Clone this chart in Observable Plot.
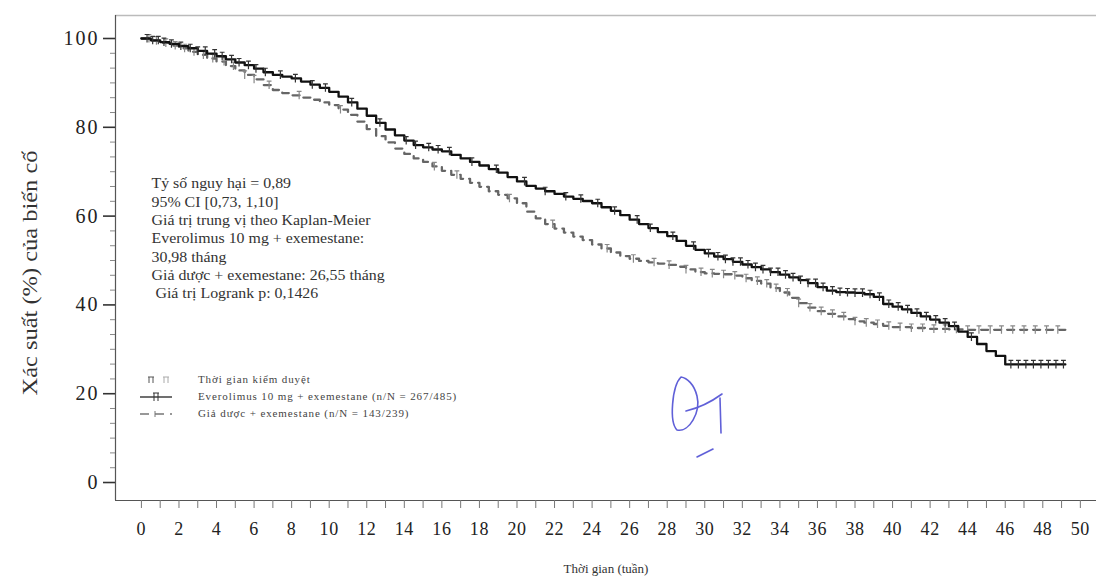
<!DOCTYPE html>
<html>
<head>
<meta charset="utf-8">
<script src="https://cdn.jsdelivr.net/npm/d3@7"></script>
<script src="https://cdn.jsdelivr.net/npm/@observablehq/plot@0.6"></script>
<style>
  html, body { margin: 0; padding: 0; background: #fff; }
  #wrap { position: relative; width: 1096px; height: 580px; overflow: hidden; }
  #legend { position: absolute; left: 138px; top: 372px; font-family: "Liberation Serif", serif; font-size: 11px; color: #444; }
  #legend .row { position: relative; height: 17px; }
  #legend svg { position: absolute; left: 0; top: 0; }
  #legend span { position: absolute; left: 60px; top: 1px; white-space: nowrap; letter-spacing: 0.9px; }
  #sig { position: absolute; left: 0; top: 0; pointer-events: none; }
  g[aria-label="y-axis tick label"] text { letter-spacing: 2px; }
  g[aria-label="x-axis tick label"] text { letter-spacing: 0.6px; }
  g[aria-label="x title"] text { letter-spacing: 0.5px; }
</style>
</head>
<body>
<div id="wrap"></div>
<script>
// ---------------- data ----------------
const seriesNames = ["Everolimus 10 mg + exemestane", "Giả dược + exemestane"];

// Kaplan–Meier estimate, Everolimus 10 mg + exemestane (time, % event-free)
const everoTime = [0,0.5,1,1.5,2,2.5,3,3.5,4,4.5,5,5.5,6,6.5,7,7.5,8,8.5,9,9.5,10,10.5,11,11.5,12,12.5,13,13.5,14,14.5,15,15.5,16,16.5,17,17.5,18,18.5,19,19.5,20,20.5,21,21.5,22,22.5,23,23.5,24,24.5,25,25.5,26,26.5,27,27.5,28,28.5,29,29.5,30,30.5,31,31.5,32,32.5,33,33.5,34,34.5,35,35.5,36,36.5,37,37.5,38,38.5,39,39.5,40,40.5,41,41.5,42,42.5,43,43.5,44,44.5,45,45.5,46,49.2];
const everoSurv = [100,99.6,99.2,98.8,98.3,97.8,97.2,96.6,96.0,95.3,94.6,94.0,93.2,92.4,91.8,91.4,91.0,90.3,89.6,88.9,88.0,86.9,85.6,84.2,82.6,81.0,79.5,78.2,77.0,76.0,75.5,75.0,74.6,73.8,73.0,72.2,71.4,70.6,69.8,68.8,67.8,66.8,66.2,65.6,65.0,64.4,63.9,63.4,62.9,62.0,61.2,60.2,59.2,58.2,57.3,56.4,55.5,54.4,53.3,52.4,51.6,50.9,50.3,49.7,49.1,48.5,48.0,47.4,46.8,46.2,45.6,44.9,44.0,43.2,42.9,42.8,42.7,42.4,41.8,40.2,39.6,39.0,38.2,37.4,36.7,36.0,35.2,34.0,32.8,31.2,29.6,28.5,26.6,26.6];

// Kaplan–Meier estimate, Giả dược + exemestane
const placeboTime = [0,0.5,1,1.5,2,2.5,3,3.5,4,4.5,5,5.5,6,6.5,7,7.5,8,8.5,9,9.5,10,10.5,11,11.5,12,12.5,13,13.5,14,14.5,15,15.5,16,16.5,17,17.5,18,18.5,19,19.5,20,20.5,21,21.5,22,22.5,23,23.5,24,24.5,25,25.5,26,26.5,27,27.5,28,28.5,29,29.5,30,30.5,31,31.5,32,32.5,33,33.5,34,34.5,35,35.5,36,36.5,37,37.5,38,38.5,39,39.5,40,41,42,43,44,49.2];
const placeboSurv = [100,99.5,99.0,98.4,97.8,97.0,96.3,95.5,94.8,93.8,92.8,91.8,90.8,89.5,88.4,87.7,87.2,86.7,86.2,85.6,85.0,84.0,82.8,81.3,79.6,78.0,76.6,75.2,74.0,73.0,72.2,71.2,70.2,69.3,68.4,67.5,66.6,65.6,64.8,64.0,62.9,61.0,59.5,58.2,57.2,56.3,55.4,54.6,53.6,52.7,51.8,51.0,50.4,49.9,49.6,49.3,49.0,48.6,48.0,47.4,47.1,47.0,46.9,46.6,46.0,45.4,44.8,43.8,42.8,41.6,40.4,39.4,38.6,38.0,37.4,36.8,36.3,36.0,35.7,35.3,35.0,34.8,34.6,34.5,34.4,34.4];

// censoring times (Thời gian kiểm duyệt)
const everoCensor = [0.3,0.6,0.9,1.2,1.6,2.1,2.6,3.0,3.4,3.9,4.3,4.8,5.2,5.7,6.1,6.6,7.4,8.2,9.1,9.8,11.2,12.7,14.1,14.6,15.3,15.8,16.4,17.6,18.9,20.4,21.5,22.6,23.4,24.3,25.2,26.4,27.1,28.3,29.4,30.2,30.7,31.1,31.5,31.9,32.3,32.7,33.1,33.5,33.9,34.3,34.7,35.1,35.5,35.9,36.3,36.8,37.2,37.6,38.0,38.4,38.8,39.3,39.8,40.3,40.8,41.3,41.8,42.3,42.8,43.3,44.2,46.3,46.7,47.1,47.5,47.9,48.3,48.7,49.1];
const placeboCensor = [0.4,0.8,1.3,1.8,2.3,2.8,3.3,3.8,4.4,4.9,5.5,6.0,6.8,8.4,10.6,15.6,16.8,19.6,21.9,24.8,26.2,27.3,28.1,29.0,29.8,30.4,31.0,31.6,32.2,32.8,33.3,33.8,34.4,35.0,35.6,36.2,36.8,37.4,38.0,38.6,39.2,39.8,40.4,41.0,41.6,42.2,42.8,43.4,44.0,44.6,45.2,45.8,46.4,47.0,47.6,48.2,48.8];

// axis ticks
const xTickLabels = [0,2,4,6,8,10,12,14,16,18,20,22,24,26,28,30,32,34,36,38,40,42,44,46,48,50];
const xMinorTicks = [0,1,2,3,4,5,6,7,8,9,10,11,12,13,14,15,16,17,18,19,20,21,22,23,24,25,26,27,28,29,30,31,32,33,34,35,36,37,38,39,40,41,42,43,44,45,46,47,48,49,50];
const yTickLabels = [0,20,40,60,80,100];
const yMinorTicks = [3.33,6.67,10,13.33,16.67,23.33,26.67,30,33.33,36.67,43.33,46.67,50,53.33,56.67,63.33,66.67,70,73.33,76.67,83.33,86.67,90,93.33,96.67];

const xTitle = "Thời gian (tuần)";
const yTitle = "Xác suất (%) của biến cố";
const statLines = [
  "Tỷ số nguy hại = 0,89",
  "95% CI [0,73, 1,10]",
  "Giá trị trung vị theo Kaplan-Meier",
  "Everolimus 10 mg + exemestane:",
  "30,98 tháng",
  "Giả dược + exemestane: 26,55 tháng",
  " Giá trị Logrank p: 0,1426"
];
const legendLabels = [
  "Thời gian kiểm duyệt",
  "Everolimus 10 mg + exemestane (n/N = 267/485)",
  "Giả dược + exemestane (n/N = 143/239)"
];

// ---------------- build ----------------
const evero = everoTime.map((t, i) => ({t, s: everoSurv[i]}));
const placebo = placeboTime.map((t, i) => ({t, s: placeboSurv[i]}));
function stepAt(curve, t) {
  const i = d3.bisector(d => d.t).right(curve, t) - 1;
  return curve[Math.max(0, i)].s;
}
const everoC = everoCensor.map(t => ({t, s: stepAt(evero, t)}));
const placeboC = placeboCensor.map(t => ({t, s: stepAt(placebo, t)}));

const censorSymbol = {
  draw(ctx, size) {
    const r = Math.sqrt(size / Math.PI);
    ctx.moveTo(0, -r); ctx.lineTo(0, r);
    ctx.moveTo(-r * 0.6, -r); ctx.lineTo(r * 0.6, -r);
  }
};

const xDomain = [-1.38, 50.86];
const yDomain = [-4.05, 105.18];

const chart = Plot.plot({
  width: 1096,
  height: 580,
  marginLeft: 115,
  marginRight: 0,
  marginTop: 15,
  marginBottom: 80,
  x: {domain: xDomain},
  y: {domain: yDomain},
  style: {fontFamily: "Liberation Serif, serif", background: "#fff", color: "#222"},
  marks: [
    // frame lines
    Plot.ruleY([yDomain[1]], {stroke: "#bbb", strokeWidth: 1.5}),
    Plot.ruleY([yDomain[0]], {stroke: "#555", strokeWidth: 1.2}),
    Plot.ruleX([xDomain[0]], {stroke: "#555", strokeWidth: 1.2}),
    // axes
    Plot.axisY(yTickLabels, {tickSize: 12, tickPadding: 4, fontSize: 20, tickFormat: d => String(d), label: null, stroke: "#333", strokeWidth: 1.6}),
    Plot.axisY(yMinorTicks, {tickSize: 5, tickFormat: () => "", label: null, stroke: "#888"}),
    Plot.axisX(xMinorTicks, {tickSize: 8, tickFormat: () => "", label: null, stroke: "#777"}),
    Plot.axisX(xTickLabels, {tickSize: 0, tickPadding: 22, fontSize: 18, tickFormat: d => String(d), label: null}),
    // titles
    Plot.text([yTitle], {ariaLabel: "y title", frameAnchor: "left", textAnchor: "middle", rotate: -90, dx: -86, dy: 15, fontSize: 22, fill: "#333"}),
    Plot.text([xTitle], {ariaLabel: "x title", frameAnchor: "bottom", dy: 72, fontSize: 13, fill: "#333"}),
    // statistics box
    Plot.text([statLines.join("\n")], {frameAnchor: "top-left", dx: 36, dy: 160, lineAnchor: "top", textAnchor: "start", lineHeight: 1.22, fontSize: 15, fill: "#333"}),
    // curves
    Plot.line(placebo, {x: "t", y: "s", curve: "step-after", stroke: "#666", strokeWidth: 2.3, strokeDasharray: "7,6"}),
    Plot.dot(placeboC, {x: "t", y: "s", symbol: censorSymbol, r: 4, stroke: "#888", strokeWidth: 1.2, fill: "none"}),
    Plot.line(evero, {x: "t", y: "s", curve: "step-after", stroke: "#111", strokeWidth: 2.3}),
    Plot.dot(everoC, {x: "t", y: "s", symbol: censorSymbol, r: 4, stroke: "#333", strokeWidth: 1.2, fill: "none"})
  ]
});

const wrap = document.getElementById("wrap");
wrap.appendChild(chart);

// stretch the rotated y title to the reference length
const allTexts = Array.from(chart.querySelectorAll("text"));
const yTitleText = allTexts.find(t => t.textContent === yTitle);
if (yTitleText) {
  yTitleText.setAttribute("textLength", "245");
  yTitleText.setAttribute("lengthAdjust", "spacingAndGlyphs");
}
// widen the statistics block horizontally (anchored at its left edge)
const statsText = allTexts.find(t => t.textContent.includes("Kaplan-Meier"));
if (statsText) {
  const bb = statsText.getBBox();
  const s = 234 / bb.width;
  const prev = statsText.getAttribute("transform");
  if (prev && prev.includes("translate")) {
    statsText.setAttribute("transform", `${prev} scale(${s},1)`);
  } else {
    statsText.setAttribute("transform", `translate(${bb.x},0) scale(${s},1) translate(${-bb.x},0)`);
  }
}

// legend (inside plot area)
const legend = document.createElement("div");
legend.id = "legend";
legend.innerHTML = `
  <div class="row"><svg width="50" height="16"><path d="M10 5 H16 M11 5 V11 M15 5 V11" stroke="#555" fill="none"/><path d="M25 5 H31 M26 5 V11 M30 5 V11" stroke="#aaa" fill="none"/></svg><span>${legendLabels[0]}</span></div>
  <div class="row"><svg width="50" height="16"><path d="M2 8 H34" stroke="#333" stroke-width="1.4"/><path d="M15 4 H21 M16 4 V12 M20 4 V12" stroke="#333" fill="none"/></svg><span>${legendLabels[1]}</span></div>
  <div class="row"><svg width="50" height="16"><path d="M2 8 H34" stroke="#777" stroke-width="1.4" stroke-dasharray="9,6"/><path d="M17 5 V11" stroke="#777"/></svg><span>${legendLabels[2]}</span></div>`;
wrap.appendChild(legend);

// handwritten mark
const sig = document.createElementNS("http://www.w3.org/2000/svg", "svg");
sig.setAttribute("id", "sig");
sig.setAttribute("width", "1096");
sig.setAttribute("height", "580");
sig.innerHTML = `<g fill="none" stroke="#6060d8" stroke-width="1.6" stroke-linecap="round">
  <path d="M681 377 C672 386,669 422,677 430 C689 433,701 412,697 396 C694 384,687 378,681 377"/>
  <path d="M686 411 C699 408,711 402,722 394"/>
  <path d="M720 398 L721 433"/>
  <path d="M697 457 L713 449"/></g>`;
wrap.appendChild(sig);
</script>
</body>
</html>
